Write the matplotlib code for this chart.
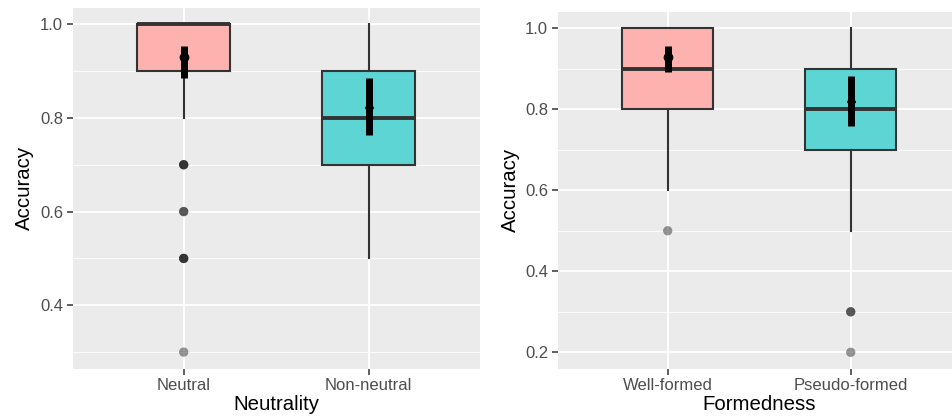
import numpy as np
import matplotlib.pyplot as plt

plt.rcParams['font.family'] = ['Liberation Sans', 'DejaVu Sans']

# left panel: Neutrality
neut_groups = ['Neutral', 'Non-neutral']
neut_q1 = [0.9, 0.7]
neut_med = [1.0, 0.8]
neut_q3 = [1.0, 0.9]
neut_whislo = [0.8, 0.5]
neut_whishi = [1.0, 1.0]
neut_outliers = [[0.7, 0.7, 0.7, 0.6, 0.6, 0.5, 0.5, 0.5, 0.3], []]
neut_mean = [0.929, 0.830]
neut_ci_lo = [0.886, 0.763]
neut_ci_hi = [0.954, 0.886]

# right panel: Formedness
form_groups = ['Well-formed', 'Pseudo-formed']
form_q1 = [0.8, 0.7]
form_med = [0.9, 0.8]
form_q3 = [1.0, 0.9]
form_whislo = [0.6, 0.5]
form_whishi = [1.0, 1.0]
form_outliers = [[0.5], [0.3, 0.3, 0.2]]
form_mean = [0.930, 0.827]
form_ci_lo = [0.891, 0.759]
form_ci_hi = [0.955, 0.882]

fills = ['#FDB2AF', '#5DD5D5']
mean_markers = ['o', '^']


def draw_panel(ax, groups, q1, med, q3, wlo, whi, outs, mean, cilo, cihi,
               ylim, yticks, yminor, xlabel):
    ax.set_facecolor('#EBEBEB')
    pos = np.arange(1, len(groups) + 1)
    stats = []
    for g, a, m, b, w0, w1 in zip(groups, q1, med, q3, wlo, whi):
        stats.append(dict(label=g, q1=a, med=m, q3=b, whislo=w0, whishi=w1, fliers=[]))
    bp = ax.bxp(stats, positions=pos, widths=0.5, patch_artist=True,
                showfliers=False, showcaps=False,
                boxprops=dict(edgecolor='#333333', linewidth=1.5),
                medianprops=dict(color='#333333', linewidth=2.8),
                whiskerprops=dict(color='#333333', linewidth=1.5))
    for patch, c in zip(bp['boxes'], fills):
        patch.set_facecolor(c)
        patch.set_zorder(2)
    for p, vals in zip(pos, outs):
        ax.scatter([p] * len(vals), vals, s=45, color='black', alpha=0.4,
                   edgecolors='none', zorder=3)
    ax.vlines(pos, cilo, cihi, color='black', linewidth=5, zorder=4)
    for p, m, mk in zip(pos, mean, mean_markers):
        ax.plot(p, m, marker=mk, color='black', ms=6, zorder=5)

    ax.set_xlim(0.4, len(groups) + 0.6)
    ax.set_ylim(*ylim)
    ax.set_xticks(pos)
    ax.set_xticklabels(groups)
    ax.set_yticks(yticks)
    ax.set_yticklabels(['%.1f' % t for t in yticks])
    ax.set_yticks(yminor, minor=True)
    ax.grid(True, which='major', color='white', linewidth=1.3)
    ax.grid(True, which='minor', axis='y', color='white', linewidth=0.6)
    ax.set_axisbelow(True)
    for s in ax.spines.values():
        s.set_visible(False)
    ax.tick_params(which='major', length=4, width=1.1, color='#333333',
                   labelcolor='#4D4D4D', labelsize=12, pad=3)
    ax.tick_params(which='minor', length=0)
    ax.set_xlabel(xlabel, fontsize=14.7, color='black')
    ax.set_ylabel('Accuracy', fontsize=14.7, color='black')
    ax.xaxis.set_label_coords(0.5, -0.074)
    ax.yaxis.set_label_coords(-0.095, 0.5)


fig = plt.figure(figsize=(9.53, 4.17), dpi=100)
ax1 = fig.add_axes([0.0763, 0.1163, 0.427, 0.865])
ax2 = fig.add_axes([0.5854, 0.1163, 0.4225, 0.855])

draw_panel(ax1, neut_groups, neut_q1, neut_med, neut_q3, neut_whislo, neut_whishi,
           neut_outliers, neut_mean, neut_ci_lo, neut_ci_hi,
           (0.265, 1.035), [0.4, 0.6, 0.8, 1.0], [0.3, 0.5, 0.7, 0.9], 'Neutrality')
draw_panel(ax2, form_groups, form_q1, form_med, form_q3, form_whislo, form_whishi,
           form_outliers, form_mean, form_ci_lo, form_ci_hi,
           (0.16, 1.04), [0.2, 0.4, 0.6, 0.8, 1.0], [0.3, 0.5, 0.7, 0.9], 'Formedness')

fig.savefig('out.png', dpi=100)
